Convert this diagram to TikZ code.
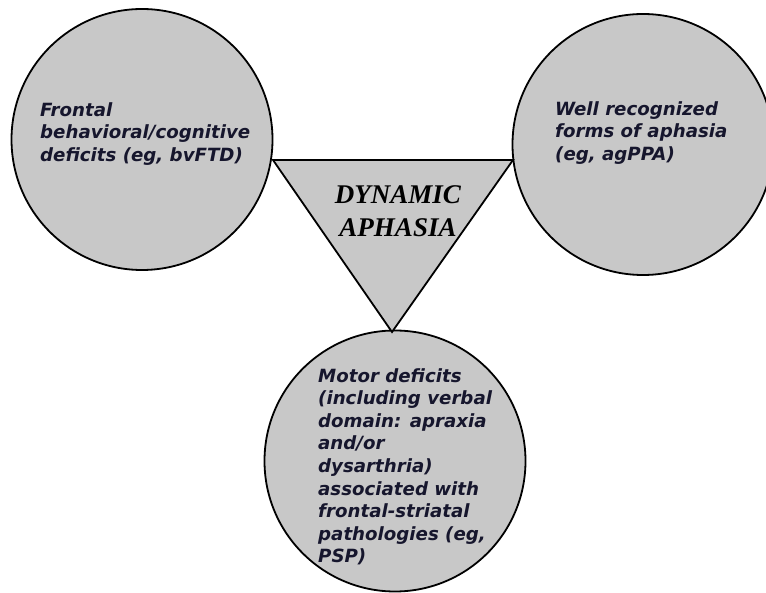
\documentclass[tikz,border=0pt]{standalone}
\usepackage{fontspec}
\setmainfont{DejaVu Sans}
\newfontfamily\circfont{DejaVu Sans}
\newfontfamily\trifont{Liberation Serif}
\definecolor{fillgray}{RGB}{200,200,200}
\definecolor{txt}{RGB}{22,22,45}
\begin{document}
\begin{tikzpicture}[x=1pt,y=-1pt,
  bubble/.style={circle,draw=black,line width=1.8pt,fill=fillgray,minimum size=261pt,inner sep=0pt},
  ctext/.style={anchor=north west,align=left,inner sep=0pt,text=txt,
    font=\circfont\bfseries\itshape\fontsize{18.2}{22.6}\selectfont},
  ttext/.style={align=center,inner sep=0pt,text=black,
    font=\trifont\bfseries\itshape\fontsize{27}{33}\selectfont}]
\useasboundingbox (0,0) rectangle (766,593);
\node[bubble] (L) at (142,139.5) {};
\node[bubble] (R) at (643,144.5) {};
\node[bubble] (B) at (395,461) {};
\coordinate (t1) at (273,160);
\coordinate (t2) at (513,160);
\coordinate (t3) at (392,332);
\draw[line width=1.8pt,fill=fillgray,line join=miter] (t1) -- (t2) -- (t3) -- cycle;
\node[ttext] (D) at (398,211) {DYNAMIC\\APHASIA};
\node[ctext] (Lt) at (40,102) {Frontal\\behavioral/cognitive\\deficits (eg, bvFTD)};
\node[ctext] (Rt) at (555,101) {Well recognized\\forms of aphasia\\(eg, agPPA)};
\node[ctext] (Bt) at (318,368) {Motor deficits\\(including verbal\\domain: apraxia\\and/or\\dysarthria)\\associated with\\frontal-striatal\\pathologies (eg,\\PSP)};
\end{tikzpicture}
\end{document}
